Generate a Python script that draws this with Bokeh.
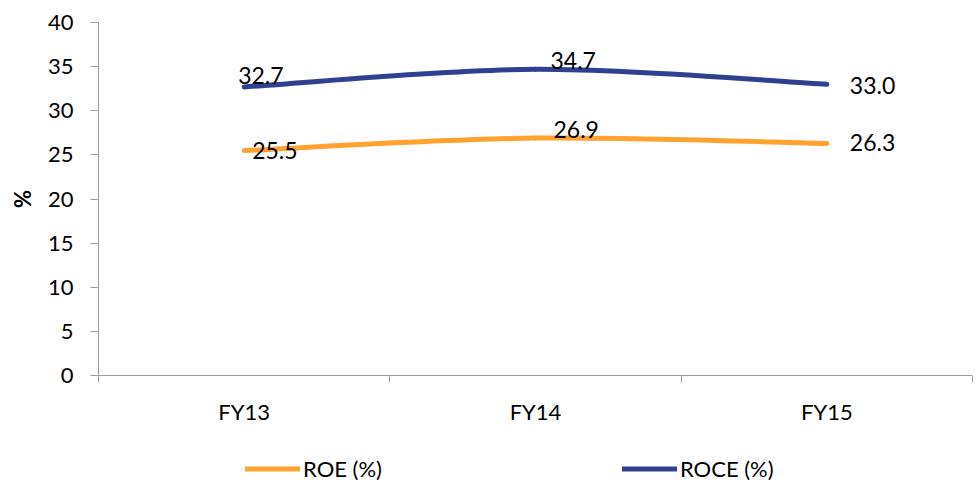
from bokeh.plotting import figure
from bokeh.layouts import column
from bokeh.models import (Range1d, FixedTicker, Legend, LegendItem,
                          ColumnDataSource, LabelSet)
from bokeh.core.properties import value
from bokeh.embed import file_html
from bokeh.resources import INLINE

# ---- data ----
categories = ["FY13", "FY14", "FY15"]
roe = [25.5, 26.9, 26.3]
roce = [32.7, 34.7, 33.0]
y_ticks = [0, 5, 10, 15, 20, 25, 30, 35, 40]
series_names = ["ROE (%)", "ROCE (%)"]

# ---- label placement (screen px: left edge dx, vertical dy up) ----
roe_label_dx = [8, 18, 23]
roe_label_dy = [0, 9, 1]
roce_label_dx = [-6, 15, 23]
roce_label_dy = [11, 9, -1]

FONT = "Lato"
ROE_COLOR = "#FFA230"
ROCE_COLOR = "#2E4190"
AXIS_COLOR = "#A0A0A0"

n = len(categories)
xs = [i + 0.5 for i in range(n)]

p = figure(width=977, height=447, x_range=Range1d(0, n), y_range=Range1d(0, 40),
           output_backend="svg", toolbar_location=None,
           min_border_left=98, min_border_right=5, min_border_top=22,
           min_border_bottom=72)
p.outline_line_color = None
p.grid.visible = False
p.background_fill_color = "white"
p.border_fill_color = "white"

# x axis
p.xaxis.ticker = FixedTicker(ticks=xs, minor_ticks=list(range(n + 1)))
p.xaxis.major_label_overrides = {x: c for x, c in zip(xs, categories)}
p.xaxis.major_tick_line_color = None
p.xaxis.major_tick_out = 7
p.xaxis.major_tick_in = 0
p.xaxis.minor_tick_line_color = AXIS_COLOR
p.xaxis.minor_tick_out = 7
p.xaxis.minor_tick_in = 0
p.xaxis.axis_line_color = AXIS_COLOR
p.xaxis.major_label_standoff = 15
p.xaxis.major_label_text_font = FONT
p.xaxis.major_label_text_font_size = "22px"
p.xaxis.major_label_text_color = "black"

# y axis
p.yaxis.ticker = FixedTicker(ticks=y_ticks)
p.yaxis.major_tick_line_color = AXIS_COLOR
p.yaxis.major_tick_out = 8
p.yaxis.major_tick_in = 0
p.yaxis.minor_tick_line_color = None
p.yaxis.axis_line_color = AXIS_COLOR
p.yaxis.major_label_standoff = 17
p.yaxis.major_label_text_font = FONT
p.yaxis.major_label_text_font_size = "22px"
p.yaxis.major_label_text_color = "black"
p.yaxis.axis_label = "%"
p.yaxis.axis_label_text_font = FONT
p.yaxis.axis_label_text_font_size = "22px"
p.yaxis.axis_label_text_font_style = "bold"
p.yaxis.axis_label_text_color = "black"
p.yaxis.axis_label_standoff = 9


def smooth_source(vals):
    pts = list(zip(xs, vals))
    d = dict(x0=[], y0=[], x1=[], y1=[], cx0=[], cy0=[], cx1=[], cy1=[])
    for i in range(len(pts) - 1):
        pm = pts[max(i - 1, 0)]
        p0 = pts[i]
        p1 = pts[i + 1]
        p2 = pts[min(i + 2, len(pts) - 1)]
        d["x0"].append(p0[0]); d["y0"].append(p0[1])
        d["x1"].append(p1[0]); d["y1"].append(p1[1])
        d["cx0"].append(p0[0] + (p1[0] - pm[0]) / 6)
        d["cy0"].append(p0[1] + (p1[1] - pm[1]) / 6)
        d["cx1"].append(p1[0] - (p2[0] - p0[0]) / 6)
        d["cy1"].append(p1[1] - (p2[1] - p0[1]) / 6)
    return ColumnDataSource(d)


for vals, color in ((roe, ROE_COLOR), (roce, ROCE_COLOR)):
    p.bezier(x0="x0", y0="y0", x1="x1", y1="y1", cx0="cx0", cy0="cy0",
             cx1="cx1", cy1="cy1", source=smooth_source(vals),
             line_color=color, line_width=5, line_cap="round")

for vals, dx, dy in ((roe, roe_label_dx, roe_label_dy),
                     (roce, roce_label_dx, roce_label_dy)):
    src = ColumnDataSource(dict(x=xs, y=vals, t=[f"{v:.1f}" for v in vals],
                                dx=dx, dy=dy))
    p.add_layout(LabelSet(x="x", y="y", text="t", x_offset="dx", y_offset="dy",
                          source=src, text_font=value(FONT),
                          text_font_size=value("23px"),
                          text_color=value("black"), text_align=value("left"),
                          text_baseline=value("middle")))

# ---- legend strip below the chart (frame aligned with the chart's frame) ----
lg = figure(width=977, height=35, x_range=Range1d(0, 1), y_range=Range1d(0, 1),
            output_backend="svg", toolbar_location=None,
            x_axis_location=None, y_axis_location=None,
            min_border_left=98, min_border_right=5,
            min_border_top=0, min_border_bottom=0)
lg.outline_line_color = None
lg.grid.visible = False
lg.border_fill_color = "white"
lg.background_fill_color = "white"

# legend-only renderers: their single segment lies outside the strip's range
r_roe = lg.line(x=[5, 6], y=[5, 5], line_color=ROE_COLOR, line_width=5,
                line_cap="round")
r_roce = lg.line(x=[5, 6], y=[5, 5], line_color=ROCE_COLOR, line_width=5,
                 line_cap="round")

legend = Legend(items=[LegendItem(label=series_names[0], renderers=[r_roe]),
                       LegendItem(label=series_names[1], renderers=[r_roce])],
                orientation="horizontal", location=(147, 0),
                spacing=240, glyph_width=55, glyph_height=13, label_height=13,
                label_standoff=3, padding=0, margin=0,
                border_line_color=None, background_fill_alpha=0,
                label_text_font=FONT, label_text_font_size="22px",
                label_text_color="black")
lg.add_layout(legend)

layout = column(p, lg, spacing=0)
open("out.html", "w").write(file_html(layout, INLINE))
